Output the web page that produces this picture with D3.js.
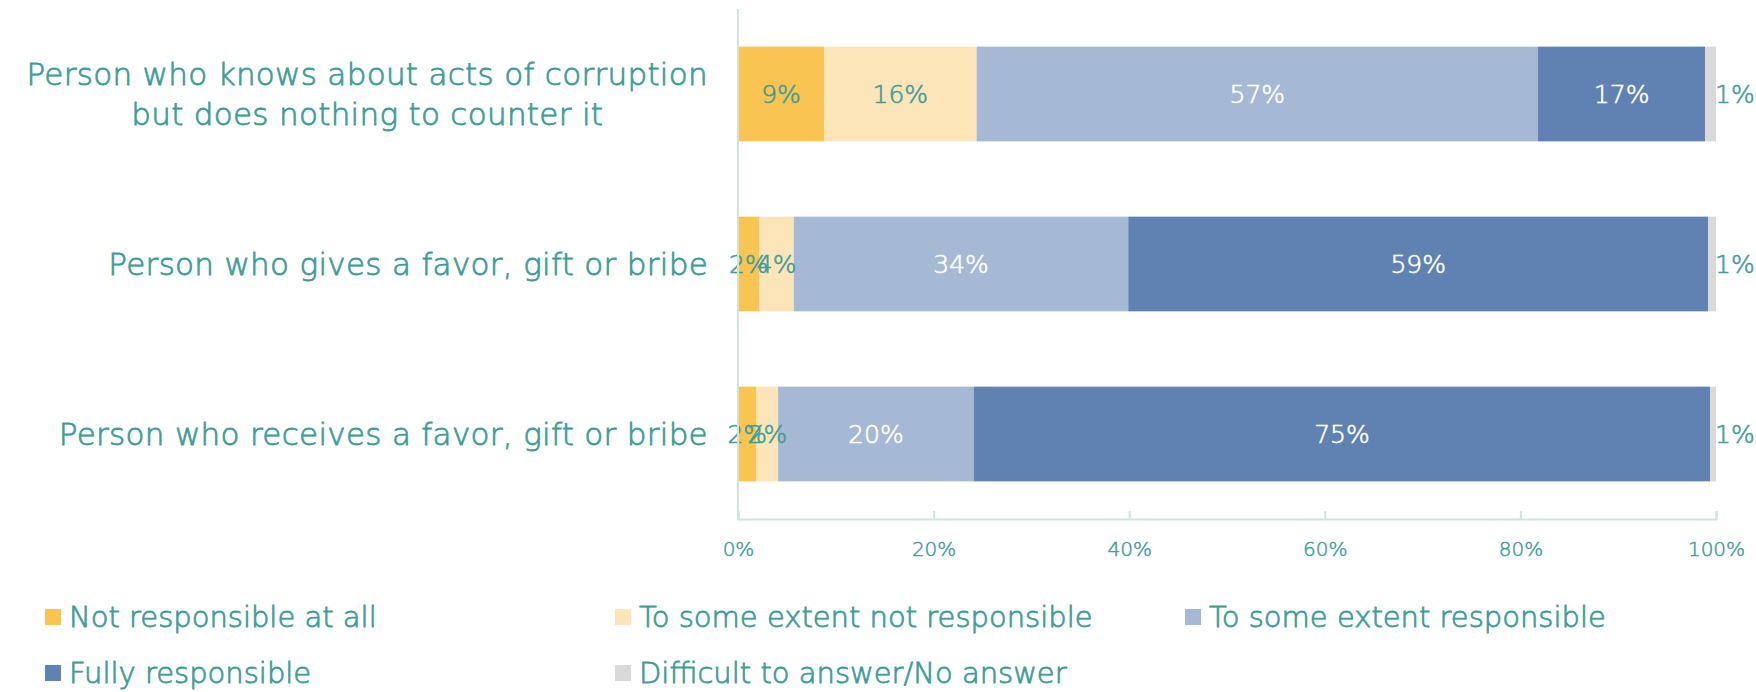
<!DOCTYPE html>
<html>
<head>
<meta charset="utf-8">
<script src="https://cdn.jsdelivr.net/npm/d3@7"></script>
<style>
  body { margin: 0; background: #fff; }
  text { font-family: "DejaVu Sans", sans-serif; font-weight: 200; }
</style>
</head>
<body>
<div id="chart"></div>
<script>
// categories, top to bottom
var categories = [
  ["Person who knows about acts of corruption", "but does nothing to counter it"],
  ["Person who gives a favor, gift or bribe"],
  ["Person who receives a favor, gift or bribe"]
];
var seriesNames = [
  "Not responsible at all",
  "To some extent not responsible",
  "To some extent responsible",
  "Fully responsible",
  "Difficult to answer/No answer"
];
// percent per series, one entry per category
var notAtAll     = [8.8, 2.2, 1.9];
var someNot      = [15.6, 3.5, 2.2];
var someResp     = [57.4, 34.2, 20.0];
var fully        = [17.1, 59.3, 75.3];
var difficult    = [1.1, 0.8, 0.6];
var tickValues   = [0, 20, 40, 60, 80, 100];

var colors = ["#F9C452", "#FCE5B8", "#A5B8D4", "#6082B2", "#D9D9D9"];
var labelColors = ["#3F9C98", "#3F9C98", "#ffffff", "#ffffff", "#3F9C98"];
var teal = "#3F9C98";
var axisColor = "#CDE4E2";

var W = 1756, H = 692;
var x0 = 738, x1 = 1716, yTop = 9, yBottom = 519;

var svg = d3.select("#chart").append("svg")
  .attr("width", W).attr("height", H);

var series = [notAtAll, someNot, someResp, fully, difficult];
var keys = categories.map(function(c, i) { return i; });

var x = d3.scaleLinear().domain([0, 100]).range([x0, x1]);
var y = d3.scaleBand().domain(keys).range([yTop, yBottom])
  .paddingInner(0.443).paddingOuter(0.2215);

// stack
var rows = keys.map(function(i) {
  var acc = 0;
  return series.map(function(s, k) {
    var seg = { cat: i, k: k, v: s[i], start: acc };
    acc += s[i];
    return seg;
  });
});
var segs = [].concat.apply([], rows);

svg.append("g").selectAll("rect")
  .data(segs).enter().append("rect")
  .attr("x", function(d) { return x(d.start); })
  .attr("y", function(d) { return y(d.cat); })
  .attr("width", function(d) { return x(d.start + d.v) - x(d.start); })
  .attr("height", y.bandwidth())
  .attr("fill", function(d) { return colors[d.k]; });

// data labels, last series sits just outside the bar
svg.append("g").selectAll("text")
  .data(segs).enter().append("text")
  .attr("x", function(d) {
    if (d.k === 4) return x(100) - 1;
    return x(d.start + d.v / 2);
  })
  .attr("y", function(d) { return y(d.cat) + y.bandwidth() / 2; })
  .attr("dy", "0.35em")
  .attr("text-anchor", function(d) { return d.k === 4 ? "start" : "middle"; })
  .attr("font-size", "25px")
  .attr("fill", function(d) { return labelColors[d.k]; })
  .attr("stroke", function(d) { return labelColors[d.k]; })
  .attr("stroke-width", 0.6)
  .text(function(d) { return Math.round(d.v) + "%"; });

// vertical axis line
svg.append("line")
  .attr("x1", x0).attr("x2", x0)
  .attr("y1", yTop).attr("y2", yBottom)
  .attr("stroke", axisColor).attr("stroke-width", 2);

// bottom axis
var xAxis = d3.axisBottom(x)
  .tickValues(tickValues)
  .tickSizeInner(-8).tickSizeOuter(-8)
  .tickPadding(23)
  .tickFormat(function(d) { return d + "%"; });

var gx = svg.append("g")
  .attr("transform", "translate(0," + yBottom + ")")
  .call(xAxis);
gx.select(".domain").attr("stroke", axisColor).attr("stroke-width", 2);
gx.selectAll(".tick line").attr("stroke", axisColor).attr("stroke-width", 2);
gx.selectAll(".tick text")
  .attr("fill", teal)
  .attr("stroke", teal)
  .attr("stroke-width", 0.5)
  .style("font-family", "'DejaVu Sans', sans-serif")
  .style("font-weight", "200")
  .style("font-size", "20px");

// category labels, block right aligned, lines centred
var labelRight = 708;
var lineH = 40;
keys.forEach(function(i) {
  var lines = categories[i];
  var g = svg.append("g");
  var cy = y(i) + y.bandwidth() / 2;
  var texts = g.selectAll("text").data(lines).enter().append("text")
    .attr("y", function(d, j) { return cy + (j - (lines.length - 1) / 2) * lineH; })
    .attr("dy", "0.35em")
    .attr("font-size", "31px")
    .attr("letter-spacing", "0.3px")
    .attr("fill", teal)
    .attr("stroke", teal)
    .attr("stroke-width", 0.8)
    .attr("text-anchor", "middle")
    .text(function(d) { return d; });
  var maxW = d3.max(texts.nodes(), function(n) { return n.getComputedTextLength(); });
  texts.attr("x", labelRight - maxW / 2);
});

// legend
var legendCols = [45, 615, 1185];
var legendRows = [617, 673];
var legend = svg.append("g").selectAll("g")
  .data(seriesNames).enter().append("g")
  .attr("transform", function(d, i) {
    return "translate(" + legendCols[i % 3] + "," + legendRows[Math.floor(i / 3)] + ")";
  });
legend.append("rect")
  .attr("x", 0).attr("y", -8).attr("width", 16).attr("height", 16)
  .attr("fill", function(d, i) { return colors[i]; });
legend.append("text")
  .attr("x", 24).attr("dy", "0.35em")
  .attr("font-size", "29px")
  .attr("fill", teal)
  .attr("stroke", teal)
  .attr("stroke-width", 0.8)
  .text(function(d) { return d; });
</script>
</body>
</html>
